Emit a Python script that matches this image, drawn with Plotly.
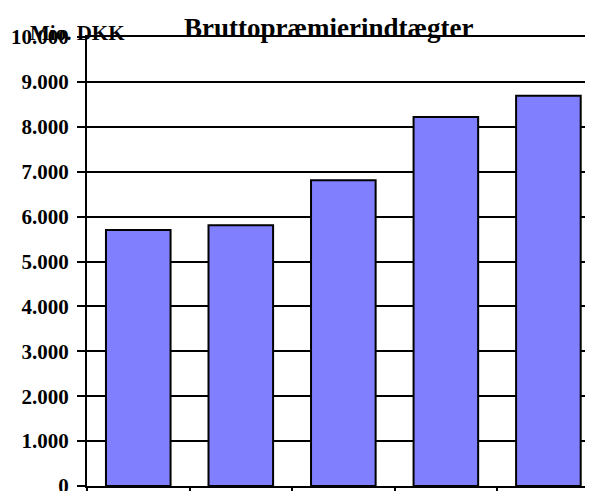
import plotly.graph_objects as go

categories = ["1", "2", "3", "4", "5"]
values = [5700, 5805, 6810, 8220, 8690]
title_text = "Bruttopræmierindtægter"
unit_label = "Mio. DKK"
y_ticks = list(range(0, 10001, 1000))

FONT = "Liberation Serif, Times New Roman, serif"

fig = go.Figure()
fig.add_trace(go.Bar(
    x=categories,
    y=values,
    marker=dict(color="#8080FF", line=dict(color="black", width=2)),
    width=0.63,
))

# page body adds an 8px margin, so the figure is offset by 8px
fig.update_layout(
    width=585,
    height=483,
    margin=dict(l=79, r=0, t=29, b=5, autoexpand=False),
    paper_bgcolor="white",
    plot_bgcolor="white",
    showlegend=False,
    separators=",.",
    font=dict(family=FONT, color="black"),
)

fig.update_xaxes(
    range=[-0.5, 4.435],
    automargin=False,
    showticklabels=False,
    showgrid=False,
    showline=True,
    linecolor="black",
    linewidth=2,
    mirror=True,
    ticks="outside",
    tickson="boundaries",
    ticklen=8,
    tickwidth=2,
    tickcolor="black",
)

fig.update_yaxes(
    range=[0, 10000],
    automargin=False,
    tickvals=y_ticks,
    tickformat=",d",
    showgrid=True,
    gridcolor="black",
    gridwidth=2,
    zeroline=False,
    showline=True,
    linecolor="black",
    linewidth=2,
    ticks="outside",
    ticklen=8,
    tickwidth=2,
    tickcolor="black",
    ticklabelstandoff=4,
    ticklabeloverflow="allow",
    tickfont=dict(family=FONT, size=21, color="black", weight="bold"),
)

fig.add_annotation(
    text=title_text,
    xref="paper", yref="paper",
    x=(328 - 87) / 506, y=1 + 9 / 449,
    xanchor="center", yanchor="middle",
    showarrow=False,
    font=dict(family=FONT, size=27, color="black", weight="bold"),
)
fig.add_annotation(
    text=unit_label,
    xref="paper", yref="paper",
    x=(28 - 87) / 506, y=1 + 4 / 449,
    xanchor="left", yanchor="middle",
    showarrow=False,
    font=dict(family=FONT, size=21, color="black", weight="bold"),
)

fig.write_html("out.html")
